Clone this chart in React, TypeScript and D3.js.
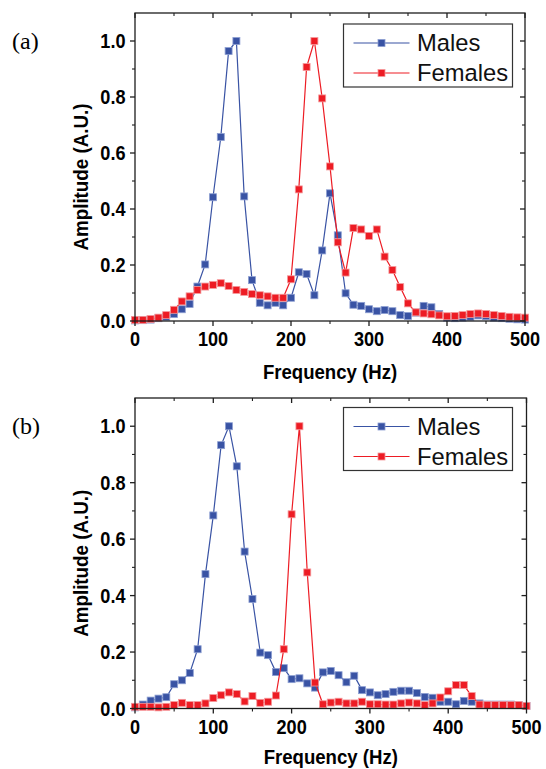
import * as d3 from "d3";

// frequency bins (Hz)
const freqs = [
  0, 10, 20, 30, 40, 50, 60, 70, 80, 90, 100, 110, 120, 130, 140, 150, 160, 170, 180, 190, 200,
  210, 220, 230, 240, 250, 260, 270, 280, 290, 300, 310, 320, 330, 340, 350, 360, 370, 380, 390,
  400, 410, 420, 430, 440, 450, 460, 470, 480, 490, 500,
];

// panel (a)
const malesA = [
  0.002, 0.003, 0.005, 0.01, 0.015, 0.025, 0.042, 0.061, 0.123, 0.202, 0.442, 0.657, 0.964, 1.0,
  0.445, 0.146, 0.065, 0.056, 0.065, 0.056, 0.083, 0.174, 0.168, 0.092, 0.252, 0.456, 0.306, 0.099,
  0.058, 0.054, 0.042, 0.035, 0.039, 0.035, 0.021, 0.018, 0.03, 0.054, 0.049, 0.025, 0.012, 0.01,
  0.012, 0.015, 0.02, 0.017, 0.012, 0.01, 0.008, 0.006, 0.005,
];
const femalesA = [
  0.004, 0.004, 0.007, 0.012, 0.021, 0.04, 0.07, 0.088, 0.111, 0.123, 0.129, 0.135, 0.125, 0.111,
  0.104, 0.096, 0.092, 0.088, 0.083, 0.083, 0.149, 0.47, 0.907, 1.0, 0.795, 0.552, 0.281, 0.173,
  0.332, 0.327, 0.304, 0.327, 0.23, 0.182, 0.121, 0.063, 0.031, 0.027, 0.024, 0.02, 0.017, 0.018,
  0.021, 0.025, 0.027, 0.025, 0.021, 0.018, 0.015, 0.013, 0.012,
];

// panel (b)
const malesB = [
  0.004, 0.014, 0.028, 0.035, 0.04, 0.086, 0.1, 0.126, 0.21, 0.476, 0.684, 0.933, 1.0, 0.858,
  0.556, 0.388, 0.198, 0.189, 0.129, 0.143, 0.104, 0.107, 0.089, 0.074, 0.128, 0.133, 0.118, 0.093,
  0.116, 0.065, 0.057, 0.047, 0.051, 0.059, 0.063, 0.063, 0.055, 0.041, 0.038, 0.024, 0.024, 0.015,
  0.027, 0.024, 0.018, 0.014, 0.014, 0.014, 0.014, 0.012, 0.009,
];
const femalesB = [
  0.006, 0.006, 0.006, 0.004, 0.006, 0.012, 0.02, 0.012, 0.012, 0.018, 0.037, 0.047, 0.057, 0.051,
  0.025, 0.044, 0.02, 0.024, 0.046, 0.21, 0.688, 1.0, 0.482, 0.092, 0.015, 0.021, 0.024, 0.018,
  0.018, 0.024, 0.015, 0.015, 0.014, 0.014, 0.018, 0.021, 0.018, 0.012, 0.018, 0.039, 0.061, 0.083,
  0.083, 0.044, 0.014, 0.012, 0.012, 0.012, 0.012, 0.012, 0.009,
];

const xMajor = [0, 100, 200, 300, 400, 500];
const xMinor = [50, 150, 250, 350, 450];
const yMajor = [0, 0.2, 0.4, 0.6, 0.8, 1.0];
const yMinor = [0.1, 0.3, 0.5, 0.7, 0.9];

const seriesNames = ["Males", "Females"];
const BLUE = "#3953a4";
const RED = "#ed1c24";
const BLUE_EDGE = "#8d9fd2";
const RED_EDGE = "#f5999c";
const SANS = "'Liberation Sans', Arial, sans-serif";

// condensed-looking text (the original uses a narrow bold sans)
function NText({ x, y, rotate = 0, sx = 0.93, size, bold = true, anchor = "middle", dy, fill = "#000", children }: any) {
  return (
    <text
      transform={`translate(${x}, ${y}) rotate(${rotate}) scale(${sx}, 1)`}
      textAnchor={anchor}
      dy={dy}
      fontFamily={SANS}
      fontWeight={bold ? "bold" : "normal"}
      fontSize={size}
      fill={fill}
    >
      {children}
    </text>
  );
}

type PanelProps = {
  tag: string;
  males: number[];
  females: number[];
  left: number;
  right: number;
  top: number;
  bottom: number;
  legendTop: number;
  titleGap: number;
};

function Panel({ tag, males, females, left, right, top, bottom, legendTop, titleGap }: PanelProps) {
  const x = d3.scaleLinear().domain([0, 500]).range([left, right]);
  const y = d3.scaleLinear().domain([0, 1.1]).range([bottom, top]);
  const line = d3
    .line<number>()
    .x((_, i) => x(freqs[i]))
    .y((d) => y(d));

  const series = [
    { name: seriesNames[0], vals: males, color: BLUE, edge: BLUE_EDGE },
    { name: seriesNames[1], vals: females, color: RED, edge: RED_EDGE },
  ];

  const ms = 7; // marker size
  const axisColor = "#1e1e1e";
  const midY = (top + bottom) / 2 + 10;

  return (
    <g>
      <text x={12} y={top + 36} fontFamily="'Liberation Serif', 'Times New Roman', serif" fontSize={24}>
        {tag}
      </text>

      {/* series */}
      {series.map((s) => (
        <g key={s.name}>
          <path d={line(s.vals) ?? ""} fill="none" stroke={s.color} strokeWidth={1.2} />
          {s.vals.map((v, i) => (
            <rect
              key={i}
              x={x(freqs[i]) - ms / 2}
              y={y(v) - ms / 2}
              width={ms}
              height={ms}
              fill={s.color}
              stroke={s.edge}
              strokeWidth={0.8}
            />
          ))}
        </g>
      ))}

      {/* frame */}
      <rect x={left} y={top} width={right - left} height={bottom - top} fill="none" stroke={axisColor} strokeWidth={1.3} />

      {/* x ticks: bottom outward, top inward */}
      {xMajor.map((t) => (
        <g key={"xM" + t}>
          <line x1={x(t)} x2={x(t)} y1={bottom} y2={bottom + 5} stroke={axisColor} strokeWidth={1.3} />
          <line x1={x(t)} x2={x(t)} y1={top} y2={top + 5} stroke={axisColor} strokeWidth={1.3} />
          <NText x={x(t)} y={bottom + 25} size={19.5}>
            {t}
          </NText>
        </g>
      ))}
      {xMinor.map((t) => (
        <g key={"xm" + t}>
          <line x1={x(t)} x2={x(t)} y1={bottom} y2={bottom + 3} stroke={axisColor} strokeWidth={1.1} />
          <line x1={x(t)} x2={x(t)} y1={top} y2={top + 3} stroke={axisColor} strokeWidth={1.1} />
        </g>
      ))}

      {/* y ticks: left outward, right inward */}
      {yMajor.map((t) => (
        <g key={"yM" + t}>
          <line x1={left - 5} x2={left} y1={y(t)} y2={y(t)} stroke={axisColor} strokeWidth={1.3} />
          <line x1={right - 5} x2={right} y1={y(t)} y2={y(t)} stroke={axisColor} strokeWidth={1.3} />
          <NText x={left - 9.5} y={y(t)} dy="0.36em" anchor="end" size={19.5}>
            {d3.format(".1f")(t)}
          </NText>
        </g>
      ))}
      {yMinor.map((t) => (
        <g key={"ym" + t}>
          <line x1={left - 3} x2={left} y1={y(t)} y2={y(t)} stroke={axisColor} strokeWidth={1.1} />
          <line x1={right - 3} x2={right} y1={y(t)} y2={y(t)} stroke={axisColor} strokeWidth={1.1} />
        </g>
      ))}

      {/* axis titles */}
      <NText x={(left + right) / 2} y={bottom + titleGap} size={20}>
        Frequency (Hz)
      </NText>
      <NText x={88} y={midY} rotate={-90} sx={0.94} size={20}>
        Amplitude (A.U.)
      </NText>

      {/* legend */}
      <g transform={`translate(343.5, ${legendTop})`}>
        <rect x={0} y={0} width={169} height={63} fill="#fff" stroke="#333" strokeWidth={1.2} />
        {series.map((s, i) => {
          const ly = 19 + i * 30;
          return (
            <g key={"lg" + s.name}>
              <line x1={10} x2={66} y1={ly} y2={ly} stroke={s.color} strokeWidth={1.2} />
              <rect x={38 - ms / 2} y={ly - ms / 2} width={ms} height={ms} fill={s.color} stroke={s.edge} strokeWidth={0.8} />
              <NText x={73.5} y={ly + 8} anchor="start" bold={false} sx={0.97} size={24.5} fill="#111">
                {s.name}
              </NText>
            </g>
          );
        })}
      </g>
    </g>
  );
}

export default function App() {
  return (
    <svg
      width={546}
      height={769}
      viewBox="0 0 546 769"
      style={{ position: "absolute", left: 0, top: 0, background: "#fff" }}
    >
      <rect width={546} height={769} fill="#fff" />
      <Panel tag="(a)" males={malesA} females={femalesA} left={135} right={525} top={13} bottom={321} legendTop={24} titleGap={58} />
      <Panel tag="(b)" males={malesB} females={femalesB} left={135} right={526.5} top={398} bottom={708.5} legendTop={407.5} titleGap={55} />
    </svg>
  );
}
